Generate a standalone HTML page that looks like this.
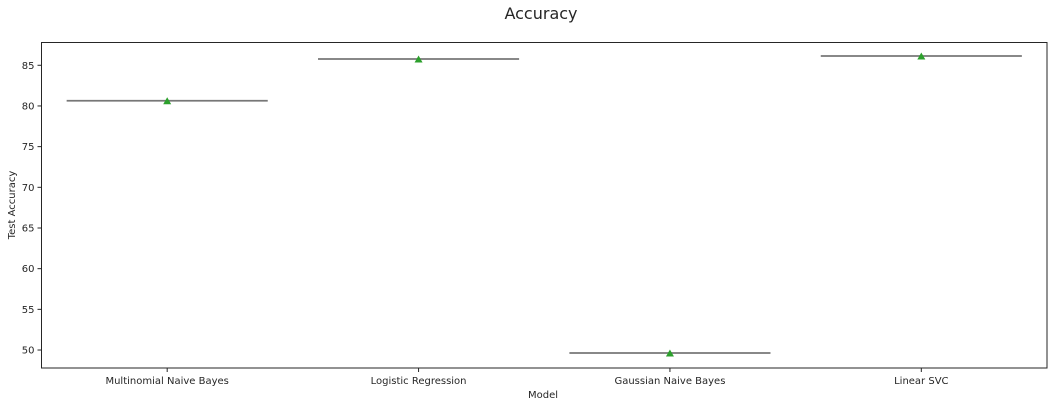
<!DOCTYPE html>
<html><head><meta charset="utf-8"><style>
html,body{margin:0;padding:0;background:#fff;width:1052px;height:406px;overflow:hidden}
svg text{font-family:"DejaVu Sans","Liberation Sans",sans-serif;fill:#262626}
</style></head><body>
<svg id="chart" width="1052" height="406" xmlns="http://www.w3.org/2000/svg">
<text x="541" y="19" font-size="16" text-anchor="middle">Accuracy</text>
<g id="plot"></g>
<text x="543" y="398" font-size="10" text-anchor="middle">Model</text>
<text transform="translate(15,205) rotate(-90)" font-size="10" text-anchor="middle">Test Accuracy</text>
</svg>
<script>
const categories=["Multinomial Naive Bayes","Logistic Regression","Gaussian Naive Bayes","Linear SVC"];
const accuracies=[80.64,85.77,49.63,86.14];
const yTicks=[50,55,60,65,70,75,80,85];
const L=41.5,R=1047,T=42.5,B=368,yMin=47.79,yMax=87.8;
const NS="http://www.w3.org/2000/svg";
const g=document.getElementById('plot');
const y=v=>B-(v-yMin)/(yMax-yMin)*(B-T);
const bw=(R-L)/categories.length;
const x=i=>L+bw*(i+0.5);
function mk(t,a){const e=document.createElementNS(NS,t);for(const k in a)e.setAttribute(k,a[k]);g.appendChild(e);return e;}
yTicks.forEach(v=>{
 const t=mk('line',{x1:L-4,x2:L,y1:y(v),y2:y(v),stroke:'#262626','stroke-width':1});
 
 
 const tx=mk('text',{x:L-7,y:y(v)+3.5,'font-size':10,'text-anchor':'end'});tx.textContent=v;
 
 
});
categories.forEach((c,i)=>{
 const t=mk('line',{x1:x(i),x2:x(i),y1:B,y2:B+4,stroke:'#262626','stroke-width':1});
 
 
 const tx=mk('text',{x:x(i),y:B+16,'font-size':10,'text-anchor':'middle'});tx.textContent=c;
 
 
 const yy=y(accuracies[i]);
 const ln=mk('line',{x1:x(i)-bw*0.4,x2:x(i)+bw*0.4,y1:yy,y2:yy,stroke:'#777','stroke-width':1.8});
 
 
 const m=mk('polygon',{points:`${x(i)-4},${yy+3.5} ${x(i)+4},${yy+3.5} ${x(i)},${yy-3.5}`,fill:'#2ca02c'});
 
 
});
const fr=mk('rect',{x:L,y:T,width:R-L,height:B-T,fill:'none',stroke:'#262626','stroke-width':1});


</script>
</body></html>
